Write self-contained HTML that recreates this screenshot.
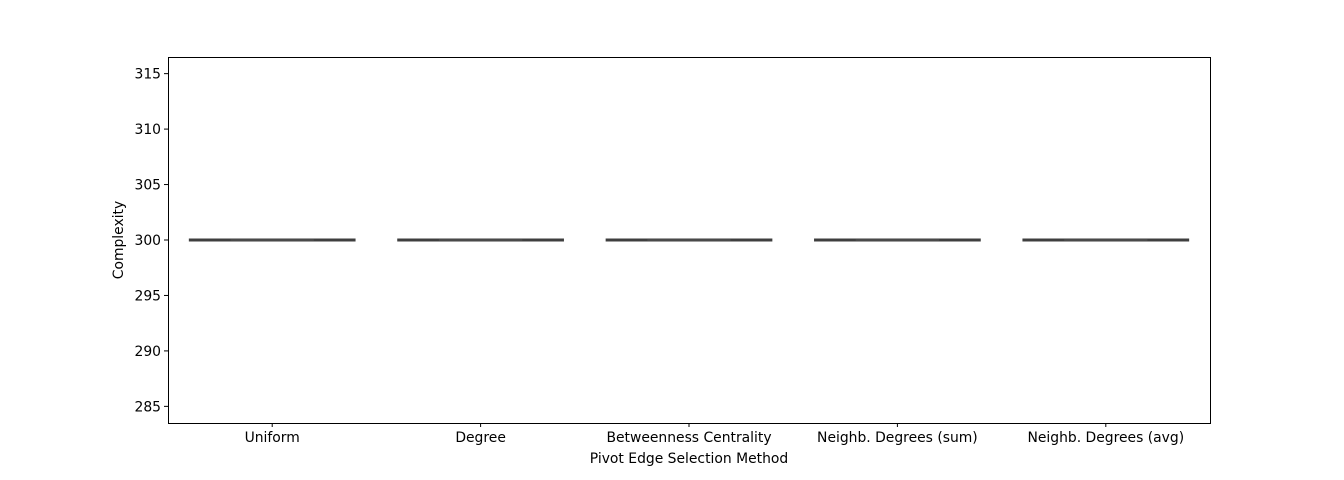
<!DOCTYPE html>
<html><head><meta charset="utf-8"><style>
body{margin:0;background:#fff;}
svg{font-family:"DejaVu Sans","Liberation Sans",sans-serif;}
</style></head><body>
<svg id="chart" width="1344" height="475">
<rect x="0" y="0" width="1344" height="475" fill="#fff"/>
<g id="plot"></g>
<rect x="168.5" y="57.5" width="1042" height="366" fill="none" stroke="#000" stroke-width="1"/>
<text x="689" y="463" font-size="13.9" text-anchor="middle">Pivot Edge Selection Method</text>
<text transform="translate(123,240) rotate(-90)" font-size="13.9" text-anchor="middle">Complexity</text>
</svg>
<script>
const categories=["Uniform","Degree","Betweenness Centrality","Neighb. Degrees (sum)","Neighb. Degrees (avg)"];
const q1=[300,300,300,300,300];
const medians=[300,300,300,300,300];
const q3=[300,300,300,300,300];
const whiskLo=[300,300,300,300,300];
const whiskHi=[300,300,300,300,300];
const yTicks=[285,290,295,300,305,310,315];
const NS="http://www.w3.org/2000/svg";
const g=document.getElementById('plot');
const L=168,R=1210,T=57,B=423;
const yMin=283.5,yMax=316.5;
function y(v){return B-(v-yMin)/(yMax-yMin)*(B-T);}
const step=(R-L)/categories.length;
function x(i){return L+step*(i+0.5);}
function mk(tag,attrs){const e=document.createElementNS(NS,tag);for(const k in attrs)e.setAttribute(k,attrs[k]);g.appendChild(e);return e;}
yTicks.forEach(t=>{
  const l=mk('line',{x1:L-4,x2:L,y1:y(t),y2:y(t),stroke:'#000'});
  
  
  const tx=mk('text',{x:L-7,y:y(t)+5,'font-size':13.9,'text-anchor':'end'});
  tx.textContent=t;
  
  
});
categories.forEach((c,i)=>{
  const cx=x(i),w=step*0.8;
  const l=mk('line',{x1:cx,x2:cx,y1:B,y2:B+4,stroke:'#000'});
  
  
  const tx=mk('text',{x:cx,y:B+19,'font-size':13.9,'text-anchor':'middle'});
  tx.textContent=c;
  
  
  const bx=mk('rect',{x:cx-w/2,y:y(q3[i])-1.5,width:w,height:Math.max(3,y(q1[i])-y(q3[i])+3),fill:'#3f3f3f'});
  
  
  const wl=mk('line',{x1:cx,x2:cx,y1:y(whiskHi[i]),y2:y(whiskLo[i]),stroke:'#3f3f3f','stroke-width':2});
  
  
  const md=mk('line',{x1:cx-w/4,x2:cx+w/4,y1:y(medians[i]),y2:y(medians[i]),stroke:'#4a4a4a','stroke-width':2});
  
  
});
</script>
</body></html>
